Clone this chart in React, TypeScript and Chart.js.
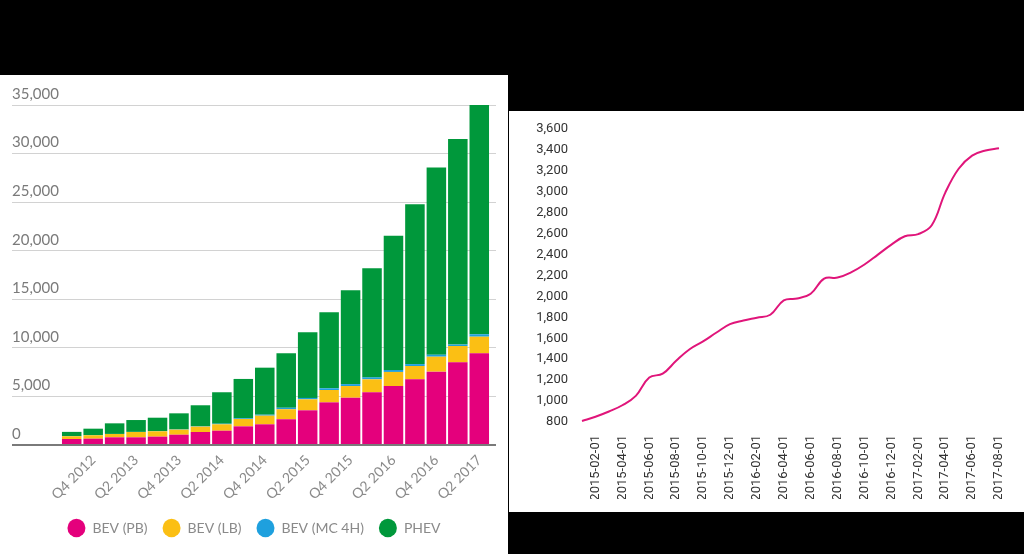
import React, { useEffect, useRef } from 'react';
import { Chart, registerables } from 'chart.js';

Chart.register(...registerables);

// ---- Left chart: stacked bars ----
const quarters = [
  'Q3 2012', 'Q4 2012', 'Q1 2013', 'Q2 2013', 'Q3 2013', 'Q4 2013', 'Q1 2014', 'Q2 2014',
  'Q3 2014', 'Q4 2014', 'Q1 2015', 'Q2 2015', 'Q3 2015', 'Q4 2015', 'Q1 2016', 'Q2 2016',
  'Q3 2016', 'Q4 2016', 'Q1 2017', 'Q2 2017',
];
const bevPB = [620, 650, 790, 790, 860, 1060, 1340, 1470, 1920, 2130, 2650, 3570, 4390, 4870, 5430, 6070, 6760, 7550, 8510, 9440];
const bevLB = [280, 350, 340, 550, 550, 520, 550, 660, 760, 890, 1030, 1130, 1270, 1200, 1330, 1450, 1370, 1540, 1680, 1710];
const bevMC4H = [10, 10, 10, 10, 20, 30, 40, 60, 80, 100, 150, 150, 180, 200, 200, 200, 200, 200, 150, 250];
const phev = [440, 670, 1090, 1220, 1380, 1650, 2160, 3240, 4040, 4840, 5610, 6750, 7820, 9650, 11230, 13830, 16450, 19280, 21160, 23600];

// ---- Right chart: line ----
const months = [
  '2015-01-01', '2015-02-01', '2015-03-01', '2015-04-01', '2015-05-01', '2015-06-01', '2015-07-01', '2015-08-01',
  '2015-09-01', '2015-10-01', '2015-11-01', '2015-12-01', '2016-01-01', '2016-02-01', '2016-03-01', '2016-04-01',
  '2016-05-01', '2016-06-01', '2016-07-01', '2016-08-01', '2016-09-01', '2016-10-01', '2016-11-01', '2016-12-01',
  '2017-01-01', '2017-02-01', '2017-03-01', '2017-04-01', '2017-05-01', '2017-06-01', '2017-07-01', '2017-08-01',
];
const lineValues = [
  810, 850, 900, 960, 1050, 1225, 1262, 1385,
  1495, 1570, 1655, 1735, 1770, 1797, 1825, 1963,
  1980, 2025, 2170, 2180, 2230, 2305, 2400, 2495,
  2575, 2595, 2680, 2990, 3220, 3345, 3395, 3415,
];

const PINK = '#e4007c';
const YELLOW = '#fbbf14';
const BLUE = '#1ea0de';
const GREEN = '#00983b';
const HUMANIST = "Lato, 'Open Sans', sans-serif";

const fmt = (v: number | string) => Number(v).toLocaleString('en-US');

export default function App() {
  const leftRef = useRef<HTMLCanvasElement | null>(null);
  const rightRef = useRef<HTMLCanvasElement | null>(null);

  useEffect(() => {
    const gridColor = (c: any) => (c.tick && c.tick.value === 0 ? '#7a7a7a' : '#d2d2d2');
    const gridWidth = (c: any) => (c.tick && c.tick.value === 0 ? 2 : 1);

    const left = new Chart(leftRef.current as HTMLCanvasElement, {
      type: 'bar',
      data: {
        labels: quarters,
        datasets: [
          { label: 'BEV (PB)', data: bevPB, backgroundColor: PINK },
          { label: 'BEV (LB)', data: bevLB, backgroundColor: YELLOW },
          { label: 'BEV (MC 4H)', data: bevMC4H, backgroundColor: BLUE },
          { label: 'PHEV', data: phev, backgroundColor: GREEN },
        ],
      },
      options: {
        animation: false,
        responsive: false,
        maintainAspectRatio: false,
        layout: { padding: { left: 12, right: 12, top: 30, bottom: 9 } },
        datasets: { bar: { categoryPercentage: 0.91, barPercentage: 1, borderWidth: 0 } } as any,
        plugins: {
          legend: {
            position: 'bottom',
            labels: {
              usePointStyle: true,
              pointStyle: 'circle',
              pointStyleWidth: 18,
              boxHeight: 13,
              padding: 15,
              color: '#8a8a8a',
              font: { family: HUMANIST, size: 14 },
            },
          },
          tooltip: { enabled: false },
        },
        scales: {
          x: {
            stacked: true,
            grid: { display: false, drawTicks: true, tickLength: 6 },
            border: { display: false },
            ticks: {
              autoSkip: false,
              minRotation: 45,
              maxRotation: 45,
              padding: 1,
              color: '#8a8a8a',
              font: { family: HUMANIST, size: 14 },
              callback: (_v: any, i: number) => (i % 2 === 1 ? quarters[i] : ''),
            },
            afterFit: (s: any) => { s.height = 61; },
          },
          y: {
            stacked: true,
            min: 0,
            max: 35000,
            ticks: {
              stepSize: 5000,
              mirror: true,
              padding: -49,
              labelOffset: -11,
              color: '#7a7a7a',
              font: { family: HUMANIST, size: 15 },
              callback: (v: any) => fmt(v),
            },
            grid: { color: gridColor, lineWidth: gridWidth, drawTicks: true, tickLength: 49 },
            border: { display: false },
            afterFit: (s: any) => { s.width = 49; },
          },
          y2: {
            position: 'right',
            min: 0,
            max: 35000,
            ticks: { stepSize: 5000, display: false },
            grid: { drawOnChartArea: false, drawTicks: true, tickLength: 6, color: gridColor, lineWidth: gridWidth },
            border: { display: false },
            afterFit: (s: any) => { s.width = 6; },
          },
        },
      } as any,
    });

    const right = new Chart(rightRef.current as HTMLCanvasElement, {
      type: 'line',
      data: {
        labels: months,
        datasets: [
          {
            data: lineValues,
            borderColor: '#e0157a',
            borderWidth: 2,
            pointRadius: 0,
            tension: 0.4,
            fill: false,
          },
        ],
      },
      options: {
        animation: false,
        responsive: false,
        maintainAspectRatio: false,
        layout: { padding: { left: 0, right: 25, top: 18, bottom: 13 } },
        plugins: { legend: { display: false }, tooltip: { enabled: false } },
        scales: {
          x: {
            grid: { display: false, drawTicks: true, tickLength: 10 },
            border: { display: false },
            ticks: {
              autoSkip: false,
              minRotation: 90,
              maxRotation: 90,
              padding: 3,
              color: '#333333',
              font: { family: 'Roboto', size: 13 },
              callback: (_v: any, i: number) => (i % 2 === 1 ? months[i] : ''),
            },
            afterFit: (s: any) => { s.height = 77; },
          },
          y: {
            min: 800,
            max: 3600,
            ticks: {
              stepSize: 200,
              padding: 0,
              color: '#333333',
              font: { family: 'Roboto', size: 13 },
              callback: (v: any) => fmt(v),
            },
            grid: { display: false, drawTicks: true, tickLength: 14 },
            border: { display: false },
            afterFit: (s: any) => { s.width = 73; },
          },
        },
      } as any,
    });

    return () => {
      left.destroy();
      right.destroy();
    };
  }, []);

  return (
    <div style={{ position: 'fixed', left: 0, top: 0, width: 1024, height: 554, background: '#000', overflow: 'hidden' }}>
      <div style={{ position: 'absolute', left: 0, top: 75, width: 508, height: 479, background: '#fff' }}>
        <canvas ref={leftRef} width={508} height={479} style={{ display: 'block' }} />
      </div>
      <div style={{ position: 'absolute', left: 509, top: 111, width: 515, height: 401, background: '#fff' }}>
        <canvas ref={rightRef} width={515} height={401} style={{ display: 'block' }} />
      </div>
    </div>
  );
}
